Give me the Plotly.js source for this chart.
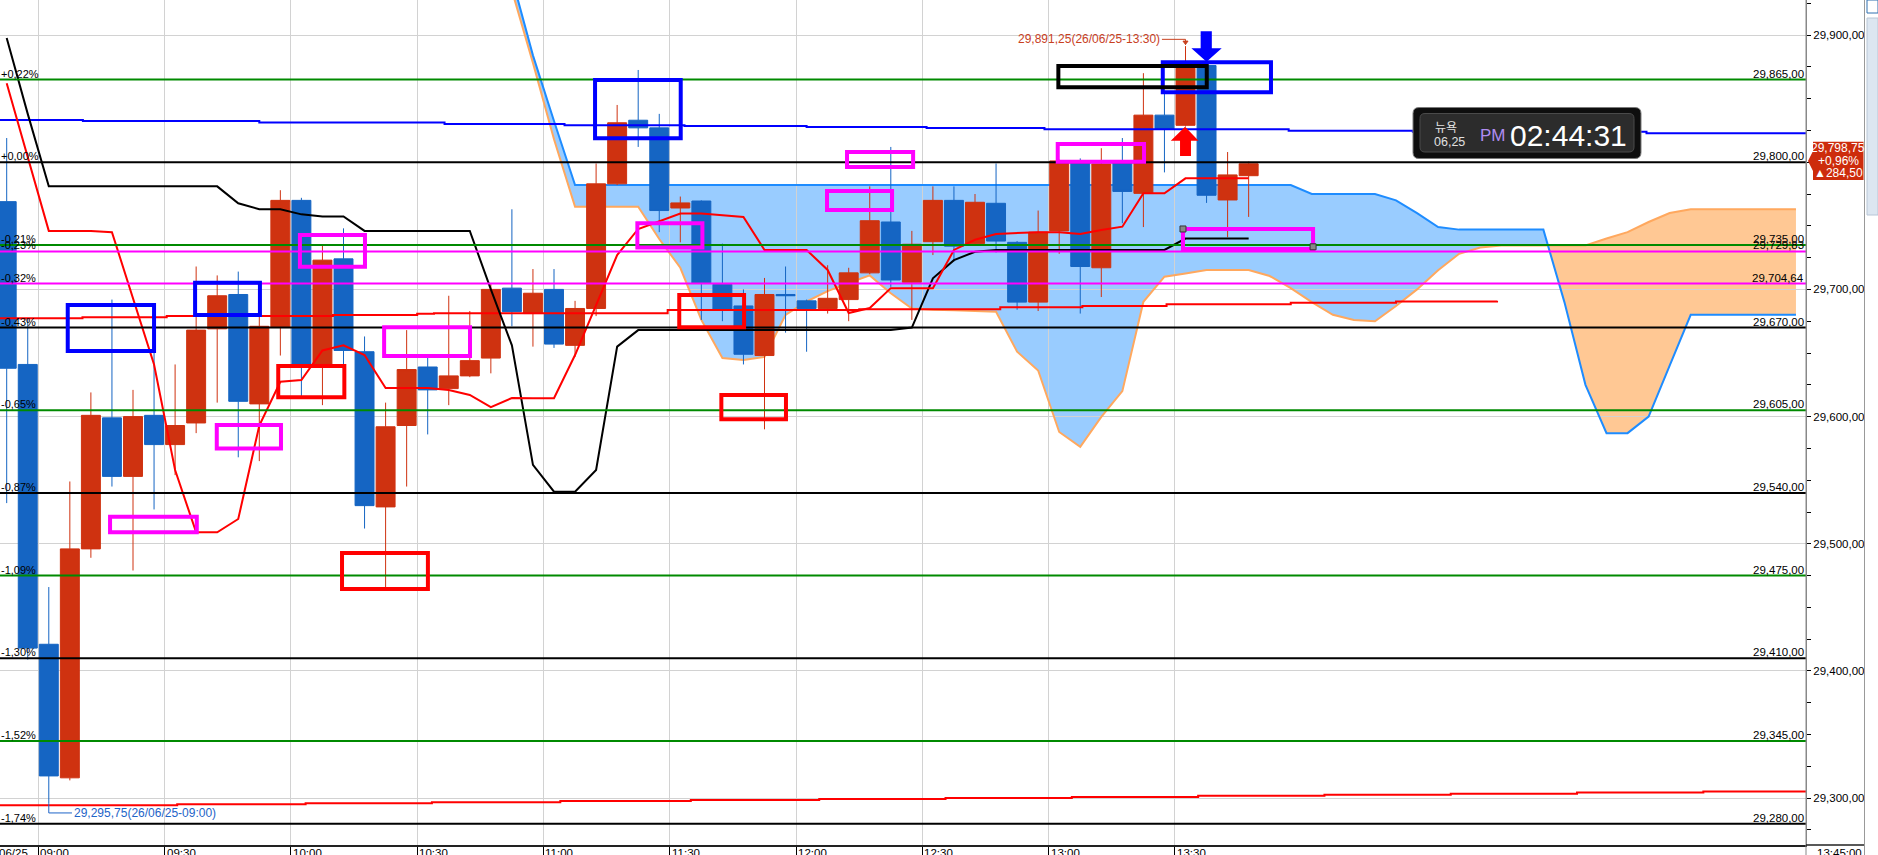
<!DOCTYPE html>
<html><head><meta charset="utf-8">
<script src="https://cdn.plot.ly/plotly-3.0.1.min.js"></script>
<style>html,body{margin:0;padding:0;background:#fff;overflow:hidden}#chart{width:1878px;height:855px}</style>
</head><body><div id="chart"></div>
<script>
// ---------- DATA (5-minute bars, index 0 = 09:00) ----------
const candleIdx = [-2,-1,0,1,2,3,4,5,6,7,8,9,10,11,12,13,14,15,16,17,18,19,20,21,22,23,24,25,26,27,28,29,30,31,32,33,34,35,36,37,38,39,40,41,42,43,44,45,46,47,48,49,50,51,52,53,54,55,56,57];
const openVals  = [29769,29641,29421,29316,29496,29599,29553,29601,29578,29595,29669,29696,29610,29670,29770,29641,29724,29651,29529,29593,29639,29622,29632,29646,29701,29681,29700,29656,29685,29783,29833,29827,29764,29769.5,29704,29687,29648,29696,29691,29685,29692,29713,29753,29705.6,29737.5,29770,29736,29767.7,29737,29690,29746,29800,29717,29800,29775.5,29837,29829,29876,29770.3,29789.4];
const highVals  = [29819,29677,29466,29549,29619,29692,29621,29651,29641,29718,29711,29714,29680,29778,29772,29735,29748,29663,29611,29668,29647,29695,29683,29705,29763,29716,29716,29691,29799,29845,29872.5,29838,29773,29770,29736,29700,29709,29718,29692,29719,29717,29781,29812,29746,29781,29781,29775,29799,29738,29762,29802,29803,29811,29819,29870,29854,29891.25,29877,29808,29800.5];
const lowVals   = [29532,29409,29295.75,29314,29489,29545,29479,29527,29554,29587,29611,29568,29565,29648,29615,29609,29641,29512,29466,29545,29586,29609,29631,29634,29671,29655,29654,29647,29679,29782,29812,29745,29737,29676,29675,29641,29590,29666,29651,29681,29675,29712,29702,29676,29727,29722,29735,29729,29684,29683,29728,29681,29694,29752,29749,29792,29828,29768,29741,29757];
const closeVals = [29638,29418,29317.5,29496,29601,29553,29600,29578,29593,29668,29695,29612,29671,29770,29641,29723,29652,29530,29592,29637,29621,29632,29644,29700,29682.5,29697,29657,29685,29783,29831,29827,29762,29768,29705,29684,29649,29696,29695,29685,29693,29713,29754,29707.4,29735.5,29770,29734,29768.5,29738,29690,29745,29801,29718,29798.6,29777,29837,29826,29874,29774,29790,29798.75];

// black base line and red conversion line (one value per bar)
const baseLine = [29897.6,29838,29781,29781,29781,29781,29781,29781,29781,29781,29781,29767.7,29763,29763,29759,29757.3,29757.3,29746,29746,29746,29746,29746,29746,29700,29656,29562,29541,29541,29558,29655,29668,29668,29668,29668,29668,29668,29668,29668,29668,29668,29668,29668,29668,29670,29708.7,29723,29729.6,29731,29731,29731,29731,29731,29731,29731,29731,29731,29740,29740,29740,29740];
const convLine = [29862,29803,29746,29746,29746,29745,29693,29641,29558,29509,29509,29519.5,29593,29627.4,29628.8,29652,29656,29648.4,29622.5,29622.5,29622.5,29620.9,29617,29607.5,29614.6,29614.4,29614.4,29648.4,29687.7,29727,29747.5,29753.8,29759.7,29759.7,29758.5,29757,29731,29731,29731,29715.3,29681.4,29685.4,29701,29701,29701,29731,29739,29743.6,29744.3,29745,29745,29743.6,29746.7,29749.3,29775.6,29775.6,29787.3,29787.3,29787.3,29787.3];

// cloud (leading spans), index 22 .. 83
const cloudIdx = [22,23,24,25,26,27,28,29,30,31,32,33,34,35,36,37,38,39,40,41,42,43,44,45,46,47,48,49,50,51,52,53,54,55,56,57,58,59,60,61,62,63,64,65,66,67,68,69,70,71,72,73,74,75,76,77,78,79,80,81,82,83];
const spanA = [29945,29884,29832.4,29782,29782,29782,29782,29782,29782,29782,29782,29782,29782,29782,29782,29782,29782,29782,29782,29782,29782,29782,29782,29782,29782,29782,29782,29782,29782,29782,29782,29782,29782,29782,29782,29782,29782,29782,29775,29775,29775,29775,29770,29760,29749,29747,29747,29747,29747,29747,29690,29625,29587,29587,29600,29640,29680,29680,29680,29680,29680,29680];
const spanB = [29935,29878,29818,29765,29765,29765,29765,29739.6,29717,29676,29646,29644.5,29647,29680,29690.5,29698.7,29705,29711,29697,29685,29684,29683.6,29683,29682.5,29651,29636.2,29587.9,29576.3,29599.7,29620,29690.3,29710,29712.5,29715.3,29715.3,29715.3,29710.5,29701,29690,29680,29676,29675,29687,29700,29715,29728,29733,29734.5,29734.5,29734.5,29734.5,29734.5,29740,29745,29753,29760,29763,29763,29763,29763,29763,29763];

// long blue average (step line)
const avgX = [-2.32,1.62,10,18.8,24.5,30.2,36,41.7,47.3,58.9,64.8,75.9,83.48];
const avgY = [29833.2,29832.4,29831.2,29830,29829,29828.5,29827.7,29826.9,29826,29824.8,29824,29822.7,29822];
// red step line near 29,680
const midRedX = [-2.32,1.6,5.6,13.5,17.5,18.3,29.4,38.5,45.2,49.1,53.1,59,64,68.8];
const midRedY = [29677.3,29678.1,29679.1,29679.9,29680.9,29681.2,29683.8,29684.4,29686,29687,29688.3,29689.5,29690.5,29691];
// red step line near 29,300
const lowRedX = [-2.32,6.1,12.2,18.2,24.3,30.5,36.6,42.6,48.6,54.6,60.6,66.6,72.6,78.6,83.48];
const lowRedY = [29294.4,29295.2,29296.0,29296.9,29297.7,29298.5,29299.4,29300.2,29301.0,29301.9,29302.7,29303.5,29304.4,29305.2,29305.2];

// horizontal levels
const levelValues = [29865,29800,29735,29729.83,29704.64,29670,29605,29540,29475,29410,29345,29280];
const levelPriceLabels = ['29,865,00','29,800,00','29,735,00','29,729,83','29,704,64','29,670,00','29,605,00','29,540,00','29,475,00','29,410,00','29,345,00','29,280,00'];
const levelPctLabels = ['+0,22%','+0,00%','-0,21%','-0,23%','-0,32%','-0,43%','-0,65%','-0,87%','-1,09%','-1,30%','-1,52%','-1,74%'];

// axes
const timeGridIdx = [-0.5,5.5,11.5,17.5,23.5,29.5,35.5,41.5,47.5,53.5];
const timeLabels = ['09:00','09:30','10:00','10:30','11:00','11:30','12:00','12:30','13:00','13:30'];
const priceTickVals = [29300,29400,29500,29600,29700,29800,29900];
const priceTickText = ['29,300,00','29,400,00','29,500,00','29,600,00','29,700,00','','29,900,00'];
const minorTickVals = [29275,29325,29350,29375,29425,29450,29475,29525,29550,29575,29625,29650,29675,29725,29750,29775,29825,29850,29875,29925];

// marks / notes
const highNote = {idx:54, price:29891.25, text:'29,891,25(26/06/25-13:30)'};
const lowNote = {idx:0, price:29295.75, text:'29,295,75(26/06/25-09:00)'};
const lastPrice = {text:'29,798,75', pct:'+0,96%', chg:'▲284,50'};
const clock = {city:'뉴욕', date:'06,25', ampm:'PM', time:'02:44:31'};

// ---------- STYLE / DRAWINGS ----------
const RED = '#CF3210', BLUE = '#1565C3';
const levelColors = ['#008A00','#000000','#008A00','#FF00FF','#FF00FF','#000000','#008A00','#000000','#008A00','#000000','#008A00','#000000'];
const FONT = 'Liberation Sans, Arial, sans-serif';

const boxes = [
  // [x0,x1,y0,y1,color]
  [0.90,5.00,29687.7,29651.6,'#0000FF'],
  [6.95,10.03,29705.3,29679.9,'#0000FF'],
  [25.95,30.02,29864.6,29818.8,'#0000FF'],
  [52.92,58.06,29878.5,29855.0,'#0000FF'],
  [47.96,55.01,29875.6,29858.9,'#000000'],
  [2.91,7.03,29521.3,29509.0,'#FF00FF'],
  [7.98,11.03,29593.4,29575.0,'#FF00FF'],
  [11.93,15.02,29742.8,29717.8,'#FF00FF'],
  [15.93,20.01,29670.2,29647.6,'#FF00FF'],
  [27.96,31.05,29752.0,29733.0,'#FF00FF'],
  [36.97,40.06,29777.4,29762.4,'#FF00FF'],
  [37.92,41.06,29808.0,29796.2,'#FF00FF'],
  [47.93,52.03,29814.3,29800.4,'#FF00FF'],
  [53.88,60.06,29747.5,29731.8,'#FF00FF'],
  [10.90,14.04,29639.8,29615.2,'#FF0000'],
  [13.93,18.01,29492.8,29464.5,'#FF0000'],
  [29.95,33.03,29695.6,29670.2,'#FF0000'],
  [31.95,35.02,29617.0,29597.9,'#FF0000']
];

// pixel helpers for widgets outside data space (plot area 1806 x 845)
const PW = 1806, PH = 845;
const px = X => X / PW, py = Y => (PH - Y) / PH;
function roundRect(x0,y0,x1,y1,r){
  const P=(X,Y)=>px(X)+','+py(Y);
  return 'M'+P(x0+r,y0)+' L'+P(x1-r,y0)+' Q'+P(x1,y0)+' '+P(x1,y0+r)+' L'+P(x1,y1-r)+' Q'+P(x1,y1)+' '+P(x1-r,y1)+
         ' L'+P(x0+r,y1)+' Q'+P(x0,y1)+' '+P(x0,y1-r)+' L'+P(x0,y0+r)+' Q'+P(x0,y0)+' '+P(x0+r,y0)+' Z';
}

// ---------- CLOUD GEOMETRY (built from spanA / spanB) ----------
const cx=[], ca=[], cb=[];
for (let k=0;k<cloudIdx.length;k++){
  if (k>0){
    const d0 = spanA[k-1]-spanB[k-1], d1 = spanA[k]-spanB[k];
    if (d0*d1 < 0){
      const t = d0/(d0-d1);
      const xc = cloudIdx[k-1] + t*(cloudIdx[k]-cloudIdx[k-1]);
      const yc = spanA[k-1] + t*(spanA[k]-spanA[k-1]);
      cx.push(xc); ca.push(yc); cb.push(yc);
    }
  }
  cx.push(cloudIdx[k]); ca.push(spanA[k]); cb.push(spanB[k]);
}
const cTop = ca.map((v,j)=>Math.max(v,cb[j]));
function bandPath(xs, upper, lower){
  let s = 'M'+xs[0]+','+upper[0];
  for (let j=1;j<xs.length;j++) s += ' L'+xs[j]+','+upper[j];
  for (let j=xs.length-1;j>=0;j--) s += ' L'+xs[j]+','+lower[j];
  return s+' Z';
}
function linePath(xs, ys){
  let s = 'M'+xs[0]+','+ys[0];
  for (let j=1;j<xs.length;j++) s += ' L'+xs[j]+','+ys[j];
  return s;
}

// ---------- TRACES ----------
const traces = [];
traces.push({
  type:'candlestick', x:candleIdx, open:openVals, high:highVals, low:lowVals, close:closeVals,
  increasing:{line:{color:RED, width:1}, fillcolor:RED},
  decreasing:{line:{color:BLUE, width:1}, fillcolor:BLUE},
  whiskerwidth:0, hoverinfo:'skip'
});
traces.push({x:avgX, y:avgY, mode:'lines', line:{color:'#0000FF', width:2, shape:'hv'}, hoverinfo:'skip'});
traces.push({x:midRedX, y:midRedY, mode:'lines', line:{color:'#FF0000', width:2, shape:'hv'}, hoverinfo:'skip'});
traces.push({x:lowRedX, y:lowRedY, mode:'lines', line:{color:'#FF0000', width:2, shape:'hv'}, hoverinfo:'skip'});
traces.push({x:candleIdx, y:baseLine, mode:'lines', line:{color:'#000000', width:2}, hoverinfo:'skip'});
traces.push({x:candleIdx, y:convLine, mode:'lines', line:{color:'#FF0000', width:2}, hoverinfo:'skip'});

// ---------- SHAPES ----------
const shapes = [];
// cloud fills below grid, cloud edges below traces
shapes.push({type:'path', xref:'x', yref:'y', layer:'below', fillcolor:'#99CCFF', line:{width:0, color:'rgba(0,0,0,0)'}, path:bandPath(cx, cTop, cb)});
shapes.push({type:'path', xref:'x', yref:'y', layer:'below', fillcolor:'#FFC894', line:{width:0, color:'rgba(0,0,0,0)'}, path:bandPath(cx, cTop, ca)});
shapes.push({type:'path', xref:'x', yref:'y', layer:'between', line:{color:'#FFA85E', width:2}, path:linePath(cloudIdx, spanB)});
shapes.push({type:'path', xref:'x', yref:'y', layer:'between', line:{color:'#1E8CFF', width:2}, path:linePath(cloudIdx, spanA)});

levelValues.forEach((v,k)=>{
  shapes.push({type:'line', xref:'paper', yref:'y', x0:0, x1:1, y0:v, y1:v, line:{color:levelColors[k], width:2}, layer:'above'});
});
boxes.forEach(b=>{
  shapes.push({type:'rect', xref:'x', yref:'y', x0:b[0], x1:b[1], y0:b[2], y1:b[3], line:{color:b[4], width:4}, fillcolor:'rgba(0,0,0,0)', layer:'above'});
});
// handles of last magenta box
[[53.88,29747.5],[60.06,29733.5]].forEach(h=>{
  shapes.push({type:'rect', xref:'x', yref:'y', xsizemode:'pixel', ysizemode:'pixel', xanchor:h[0], yanchor:h[1], x0:-3, x1:3, y0:-3, y1:3, fillcolor:'#888', line:{color:'#333', width:1}, layer:'above'});
});
// blue down arrow
shapes.push({type:'path', xref:'x', yref:'y', layer:'above', fillcolor:'#0000FF', line:{color:'#0000FF', width:0},
  path:'M54.72,29903 L55.25,29903 L55.25,29889.5 L55.72,29889.5 L55.0,29879 L54.28,29889.5 L54.72,29889.5 Z'});
// red up arrow
shapes.push({type:'path', xref:'x', yref:'y', layer:'above', fillcolor:'#FF0000', line:{color:'#FF0000', width:0},
  path:'M53.98,29827.9 L54.62,29816.9 L54.26,29816.9 L54.26,29804.9 L53.74,29804.9 L53.74,29816.9 L53.30,29816.9 Z'});
// high note leader
shapes.push({type:'path', xref:'x', yref:'y', layer:'above', line:{color:'#C8401E', width:1},
  path:'M52.88,29896.6 L'+highNote.idx+',29896.6 L'+highNote.idx+','+(highNote.price+1)});
shapes.push({type:'path', xref:'x', yref:'y', layer:'above', fillcolor:'#C8401E', line:{color:'#C8401E', width:1},
  path:'M53.88,29895.2 L54.12,29895.2 L54,29892.6 Z'});
// low note leader
shapes.push({type:'path', xref:'x', yref:'y', layer:'above', line:{color:'#1E64C8', width:1},
  path:'M'+lowNote.idx+','+lowNote.price+' L'+lowNote.idx+',29288.4 L1.1,29288.4'});
// right axis extension & separators
shapes.push({type:'line', xref:'paper', yref:'paper', x0:1, x1:1, y0:py(855), y1:1, line:{color:'#888', width:1}});
shapes.push({type:'line', xref:'paper', yref:'paper', x0:1, x1:px(1864), y0:py(845), y1:py(845), line:{color:'#222', width:1.5}});
shapes.push({type:'line', xref:'paper', yref:'paper', x0:px(1864.5), x1:px(1864.5), y0:py(855), y1:1, line:{color:'#999', width:1}});
shapes.push({type:'rect', xref:'paper', yref:'paper', x0:px(1867), x1:px(1878), y0:py(215), y1:py(18), fillcolor:'#DCE6F1', line:{color:'#B8C6D6', width:1}});
shapes.push({type:'rect', xref:'paper', yref:'paper', x0:px(1867), x1:px(1878), y0:py(13), y1:py(0), fillcolor:'#FFFFFF', line:{color:'#3070B0', width:1}});
// last price box
shapes.push({type:'path', xref:'paper', yref:'paper', layer:'above', fillcolor:'#CD2C0C', line:{color:'#CD2C0C', width:0},
  path:'M'+px(1813)+','+py(141.7)+' L'+px(1863.5)+','+py(141.7)+' L'+px(1863.5)+','+py(180)+' L'+px(1813)+','+py(180)+
       ' L'+px(1813)+','+py(171)+' L'+px(1808)+','+py(161)+' L'+px(1813)+','+py(151)+' Z'});
// clock widget
shapes.push({type:'path', xref:'paper', yref:'paper', layer:'above', fillcolor:'#0E0E0E', line:{color:'#7A7A7A', width:1}, path:roundRect(1413,107.5,1641,158.5,6)});
shapes.push({type:'path', xref:'paper', yref:'paper', layer:'above', fillcolor:'#2C2C2C', line:{color:'#4A4A4A', width:1}, path:roundRect(1420,113.5,1634,152,5)});

// ---------- ANNOTATIONS ----------
const ann = [];
levelValues.forEach((v,k)=>{
  ann.push({xref:'paper', yref:'y', x:1, y:v, xanchor:'right', yanchor:'bottom', xshift:-1, yshift:-1, showarrow:false,
            text:levelPriceLabels[k], font:{family:FONT, size:11.5, color:'#000'}, borderpad:0});
  ann.push({xref:'paper', yref:'y', x:0, y:v, xanchor:'left', yanchor:'bottom', xshift:0, yshift:-1, showarrow:false,
            text:levelPctLabels[k], font:{family:FONT, size:11, color:'#000'}, borderpad:0});
});
timeGridIdx.forEach((g,k)=>{
  ann.push({xref:'x', yref:'paper', x:g, y:0, xanchor:'left', yanchor:'top', xshift:1, yshift:-1, showarrow:false,
            text:timeLabels[k], font:{family:FONT, size:11.5, color:'#000'}, borderpad:0});
});
ann.push({xref:'x', yref:'paper', x:-0.5, y:0, xanchor:'right', yanchor:'top', xshift:-9, yshift:-1, showarrow:false,
          text:'06/25', font:{family:FONT, size:11.5, color:'#000'}, borderpad:0});
ann.push({xref:'paper', yref:'paper', x:px(1863), y:0, xanchor:'right', yanchor:'top', yshift:-1, showarrow:false,
          text:'13:45:00', font:{family:FONT, size:11.5, color:'#000'}, borderpad:0});
ann.push({xref:'x', yref:'y', x:52.88, y:29896.6, xanchor:'right', yanchor:'middle', xshift:-1, showarrow:false,
          text:highNote.text, font:{family:FONT, size:12, color:'#C8401E'}, borderpad:0});
ann.push({xref:'x', yref:'y', x:1.12, y:29288.4, xanchor:'left', yanchor:'middle', xshift:1, showarrow:false,
          text:lowNote.text, font:{family:FONT, size:12, color:'#1E64C8'}, borderpad:0});
// last price box text
[[lastPrice.text,148.5],[lastPrice.pct,161],[lastPrice.chg,173]].forEach(t=>{
  ann.push({xref:'paper', yref:'paper', x:px(1838.5), y:py(t[1]), xanchor:'center', yanchor:'middle', showarrow:false,
            text:t[0], font:{family:FONT, size:12, color:'#FFFFFF'}, borderpad:0});
});
// clock text
ann.push({xref:'paper', yref:'paper', x:px(1445.5), y:py(126), xanchor:'center', yanchor:'middle', showarrow:false,
          text:clock.city, font:{family:'Noto Sans CJK KR, sans-serif', size:12, color:'#E0E0E0'}, borderpad:0});
ann.push({xref:'paper', yref:'paper', x:px(1449), y:py(142.5), xanchor:'center', yanchor:'middle', showarrow:false,
          text:clock.date, font:{family:FONT, size:12.5, color:'#E0E0E0'}, borderpad:0});
ann.push({xref:'paper', yref:'paper', x:px(1492.5), y:py(135.5), xanchor:'center', yanchor:'middle', showarrow:false,
          text:clock.ampm, font:{family:FONT, size:17, color:'#B08CF0'}, borderpad:0});
ann.push({xref:'paper', yref:'paper', x:px(1568.5), y:py(135), xanchor:'center', yanchor:'middle', showarrow:false,
          text:clock.time, font:{family:FONT, size:30, color:'#FFFFFF'}, borderpad:0});

// ---------- LAYOUT ----------
const layout = {
  width:1878, height:855,
  margin:{l:0, r:72, t:0, b:10, pad:0, autoexpand:false},
  paper_bgcolor:'#FFFFFF', plot_bgcolor:'#FFFFFF',
  showlegend:false, hovermode:false,
  boxgap:0.1, boxgroupgap:0,
  xaxis:{range:[-2.318,83.477], tickmode:'array', tickvals:timeGridIdx, ticktext:timeGridIdx.map(()=>''),
         showgrid:true, gridcolor:'#D2D2D2', gridwidth:1, ticks:'outside', ticklen:9, tickcolor:'#000', tickwidth:1,
         showline:true, linecolor:'#222', linewidth:1.5, zeroline:false, rangeslider:{visible:false}, fixedrange:true},
  yaxis:{side:'right', range:[29263.2,29927.52], tickmode:'array', tickvals:priceTickVals, ticktext:priceTickText,
         showgrid:true, gridcolor:'#D2D2D2', gridwidth:1, ticks:'outside', ticklen:4, tickcolor:'#000',
         minor:{tickmode:'array', tickvals:minorTickVals, ticks:'outside', ticklen:4, tickcolor:'#000', showgrid:false},
         showline:true, linecolor:'#888', linewidth:1, zeroline:false, fixedrange:true,
         tickfont:{family:FONT, size:11.5, color:'#000'}},
  shapes:shapes, annotations:ann
};
Plotly.newPlot('chart', traces, layout, {displayModeBar:false, staticPlot:true});
</script></body></html>
